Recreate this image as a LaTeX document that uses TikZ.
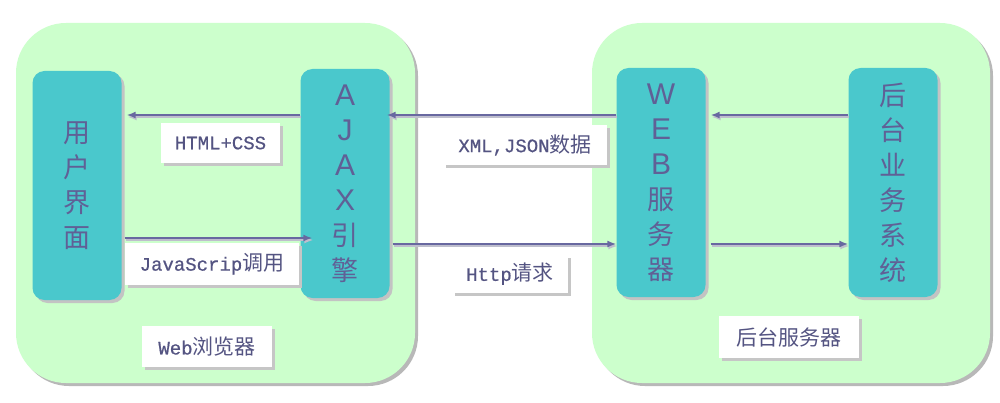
\documentclass[tikz,border=0pt]{standalone}
\usepackage{fontspec}
\setmainfont{Liberation Sans}
\newfontfamily\cjk{Noto Sans CJK SC}
\newfontfamily\mono[FakeBold=0.6]{Liberation Mono}
\usetikzlibrary{shadows,arrows.meta}
\definecolor{bggreen}{RGB}{204,255,204}
\definecolor{tealbox}{RGB}{74,200,204}
\definecolor{txtc}{RGB}{96,96,150}
\definecolor{lblc}{RGB}{84,84,130}
\definecolor{arrc}{RGB}{104,104,160}
\definecolor{arrsh}{RGB}{190,190,205}
\definecolor{shad}{RGB}{184,184,184}
\newcommand\La[1]{{\fontsize{30}{35}\selectfont\rmfamily #1}}
\newcommand\Lm[1]{{\mono\fontsize{19}{20}\selectfont #1}}
\newcommand\Lc[1]{{\cjk\fontsize{21}{22}\selectfont #1}}
\begin{document}
\begin{tikzpicture}[x=1pt,y=-1pt,
  panel/.style={rounded corners=50pt, fill=bggreen, inner sep=0pt,
    drop shadow={shadow xshift=3pt,shadow yshift=-3pt,fill=shad,opacity=1}},
  tbox/.style={rounded corners=12pt, fill=tealbox, inner sep=0pt, align=center,
    text=txtc, font=\cjk\fontsize{27}{35}\selectfont,
    minimum width=89pt, minimum height=229pt,
    drop shadow={shadow xshift=3pt,shadow yshift=-3pt,fill=shad!85,opacity=1}},
  lbl/.style={fill=white, inner sep=0pt, text=lblc,
    drop shadow={shadow xshift=3pt,shadow yshift=-3pt,fill=shad!80,opacity=1}},
  arr/.style={draw=arrc, line width=1.6pt, -{Latex[length=9pt,width=7pt]},
    preaction={draw=arrsh, line width=1.4pt, -{Latex[length=9pt,width=7pt]},
      transform canvas={shift={(1pt,-2pt)}}}}
]
\useasboundingbox (0,0) rectangle (1000,403);
\fill[white] (0,0) rectangle (1000,403);

% panels
\node[panel, minimum width=399pt, minimum height=360pt] (browser) at (215.5,203) {};
\node[panel, minimum width=398pt, minimum height=360pt] (server) at (791,203) {};

% teal boxes
\node[tbox] (ui) at (77,185.5) {用\\户\\界\\面};
\node[tbox] (ajax) at (345,183.5) {\La{A}\\\La{J}\\\La{A}\\\La{X}\\引\\擎};
\node[tbox] (web) at (661,182.5) {\La{W}\\\La{E}\\\La{B}\\服\\务\\器};
\node[tbox] (sys) at (893,182.5) {后\\台\\业\\务\\系\\统};

% labels
\node[lbl, minimum width=119pt, minimum height=40pt] (l1) at (220.5,143) {\Lm{HTML+CSS}};
\node[lbl, minimum width=174pt, minimum height=42pt] (l2) at (212,264) {\Lm{JavaScrip}\Lc{调用}};
\node[lbl, minimum width=130pt, minimum height=41pt] (l3) at (207,346.5) {\Lm{Web}\Lc{浏览器}};
\node[lbl, minimum width=164pt, minimum height=40pt] (l4) at (525,145) {\Lm{XML,JSON}\Lc{数据}};
\node[lbl, minimum width=116pt, minimum height=38pt] (l5) at (510,274) {\Lm{Http}\Lc{请求}};
\node[lbl, minimum width=140pt, minimum height=42pt] (l6) at (789,337) {\Lc{后台服务器}};

% arrow levels
\coordinate (yt) at (0,115);
\coordinate (yb1) at (0,238);
\coordinate (yb2) at (0,244);

% arrows
\draw[arr] (ajax.west |- yt) -- ([xshift=5pt]ui.east |- yt);
\draw[arr] (web.west |- yt) -- ([xshift=-3pt]ajax.east |- yt);
\draw[arr] (sys.west |- yt) -- ([xshift=5pt]web.east |- yt);
\draw[arr] ([xshift=3pt]ui.east |- yb1) -- ([xshift=12pt]ajax.west |- yb1);
\draw[arr] ([xshift=3pt]ajax.east |- yb2) -- (web.west |- yb2);
\draw[arr] ([xshift=5pt]web.east |- yb2) -- (sys.west |- yb2);
\end{tikzpicture}
\end{document}
